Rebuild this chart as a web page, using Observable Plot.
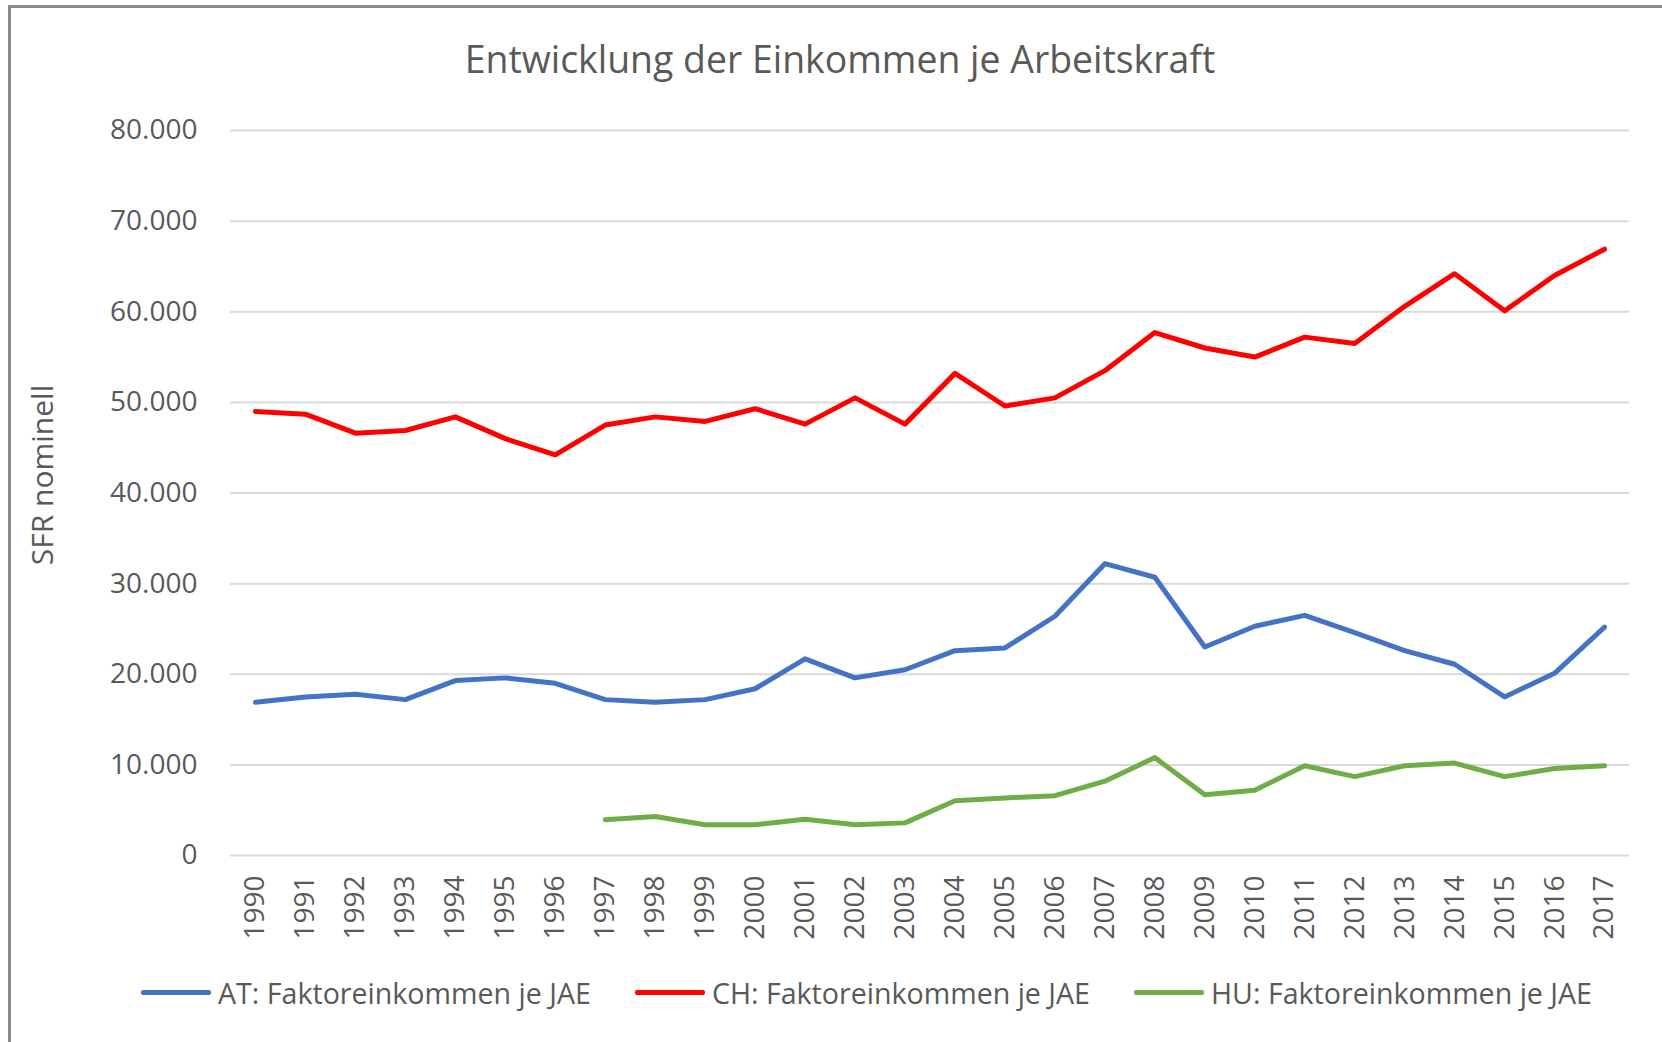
<!DOCTYPE html>
<html>
<head>
<meta charset="utf-8">
<script src="https://cdn.jsdelivr.net/npm/d3@7"></script>
<script src="https://cdn.jsdelivr.net/npm/@observablehq/plot@0.6"></script>
<style>
  html, body { margin: 0; padding: 0; background: #fff; }
  #wrap { position: relative; width: 1662px; height: 1042px; overflow: hidden; font-family: "Open Sans", sans-serif; color: #595959; }
  #bt { position: absolute; left: 8px; top: 5px; width: 1654px; height: 3px; background: #8c8c8c; }
  #bl { position: absolute; left: 8px; top: 5px; width: 3px; height: 1037px; background: #8c8c8c; }
  #title { height: 100px; box-sizing: border-box; padding-top: 40px; line-height: 38px; font-size: 37.4px; text-align: center; padding-left: 18px; white-space: nowrap; }
  #ylabel { position: absolute; left: 42px; top: 475px; transform: translate(-50%, -50%) rotate(-90deg); font-size: 30px; line-height: 1; white-space: nowrap; }
  #legend { position: absolute; left: 0; top: 960px; height: 64px; display: flex; align-items: center; padding-left: 141px; font-size: 28.6px; white-space: nowrap; }
  .item { display: flex; align-items: center; margin-right: 44px; }
  .sw { width: 70px; height: 5px; border-radius: 2px; margin-right: 7px; }
</style>
</head>
<body>
<div id="wrap">
  <div id="title">Entwicklung der Einkommen je Arbeitskraft</div>
  <div id="chart"></div>
  <div id="ylabel"></div>
  <div id="legend"></div>
  <div id="bt"></div>
  <div id="bl"></div>
</div>
<script>
const years = [1990,1991,1992,1993,1994,1995,1996,1997,1998,1999,2000,2001,2002,2003,2004,2005,2006,2007,2008,2009,2010,2011,2012,2013,2014,2015,2016,2017];
const atValues = [16900,17500,17800,17200,19300,19600,19000,17200,16900,17200,18400,21700,19600,20500,22600,22900,26400,32200,30700,23000,25300,26500,24600,22600,21100,17500,20100,25200];
const chValues = [49000,48700,46600,46900,48400,46000,44200,47500,48400,47900,49300,47600,50500,47600,53200,49600,50500,53500,57700,56000,55000,57200,56500,60600,64200,60100,64000,66900];
const huValues = [null,null,null,null,null,null,null,3950,4300,3400,3400,4000,3400,3600,6050,6350,6600,8200,10800,6700,7200,9900,8700,9900,10200,8700,9600,9900];
const seriesNames = ["AT: Faktoreinkommen je JAE","CH: Faktoreinkommen je JAE","HU: Faktoreinkommen je JAE"];
const seriesColors = ["#4472C4","#FF0000","#70AD47"];
const yTicks = [0,10000,20000,30000,40000,50000,60000,70000,80000];
const yLabel = "SFR nominell";

const rows = [];
[atValues, chValues, huValues].forEach((vals, si) => {
  years.forEach((yr, i) => rows.push({year: yr, value: vals[i], series: seriesNames[si]}));
});

const de = d3.formatLocale({decimal: ",", thousands: ".", grouping: [3], currency: ["", ""]});
const fmt = de.format(",");

const chart = Plot.plot({
  width: 1662,
  height: 860,
  marginLeft: 230,
  marginRight: 33,
  marginTop: 30,
  marginBottom: 105,
  style: {fontFamily: "Open Sans, sans-serif", color: "#595959", background: "transparent"},
  x: {type: "linear", domain: [years[0] - 0.5, years[years.length - 1] + 0.5]},
  y: {domain: [0, 80000]},
  color: {domain: seriesNames, range: seriesColors},
  marks: [
    Plot.ruleY(yTicks, {stroke: "#d9d9d9", strokeWidth: 2}),
    Plot.axisY({ticks: yTicks, tickFormat: d => d === 0 ? "0" : fmt(d), tickSize: 0, tickPadding: 33, fontSize: 28, fill: "#595959", label: null}),
    Plot.axisX({ticks: years, tickRotate: -90, tickSize: 0, tickPadding: 20, fontSize: 28, fill: "#595959", label: null, tickFormat: d => String(d)}),
    Plot.line(rows, {x: "year", y: "value", z: "series", stroke: "series", strokeWidth: 5, strokeLinecap: "round", strokeLinejoin: "round"})
  ]
});
document.getElementById("chart").appendChild(chart);
document.getElementById("ylabel").textContent = yLabel;

const legend = document.getElementById("legend");
seriesNames.forEach((name, i) => {
  const it = document.createElement("div");
  it.className = "item";
  const sw = document.createElement("div");
  sw.className = "sw";
  sw.style.background = seriesColors[i];
  const tx = document.createElement("span");
  tx.textContent = name;
  it.appendChild(sw); it.appendChild(tx);
  legend.appendChild(it);
});
</script>
</body>
</html>
